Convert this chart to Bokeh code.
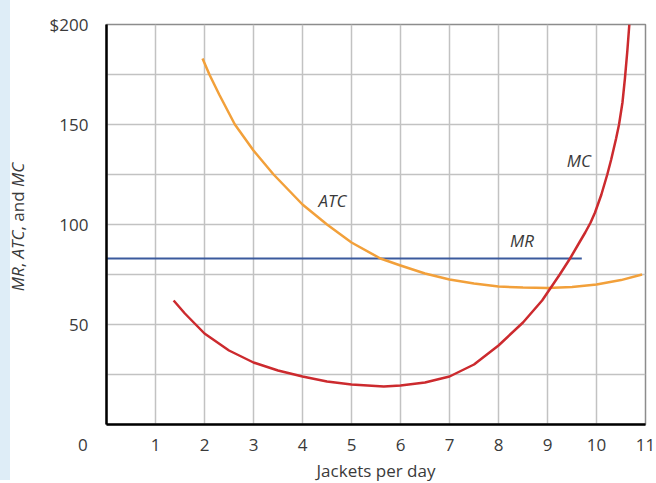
import math
from bokeh.plotting import figure
from bokeh.models import Range1d, FixedTicker, Label, Div
from bokeh.layouts import row
from bokeh.embed import file_html
from bokeh.resources import INLINE

# ---- data ----
x_ticks = [0, 1, 2, 3, 4, 5, 6, 7, 8, 9, 10, 11]
y_ticks = [50, 100, 150, 200]
y_tick_labels = ["50", "100", "150", "$200"]
grid_x = [1, 2, 3, 4, 5, 6, 7, 8, 9, 10]
grid_y = [25, 50, 75, 100, 125, 150, 175]

mr_q = [0, 9.7]
mr_v = [83, 83]

atc_q = [1.96, 2.1, 2.3, 2.62, 3.0, 3.41, 4.0, 4.5, 5.0, 5.59, 6.0, 6.5, 7.0, 7.5, 8.0, 8.5, 9.0, 9.5, 10.0, 10.5, 10.93]
atc_v = [183, 175, 165, 150, 137, 125, 110, 100, 91, 83, 79.5, 75.5, 72.5, 70.5, 69, 68.5, 68.3, 68.8, 70, 72.2, 75]

mc_q = [1.37, 1.6, 1.82, 2.0, 2.5, 3.0, 3.5, 4.0, 4.5, 5.0, 5.66, 6.0, 6.5, 7.0, 7.5, 8.0, 8.5, 8.89, 9.25, 9.46, 9.65, 9.77, 9.88, 9.97, 10.1, 10.22, 10.3, 10.4, 10.46, 10.53, 10.58, 10.63, 10.67]
mc_v = [62, 55.5, 50, 45.5, 37, 31, 27, 24, 21.5, 20, 19, 19.5, 21, 24, 30, 39.5, 51, 62, 75, 83, 91, 96, 101, 106, 115, 125, 132.5, 143, 150, 161, 173, 187, 200]

FONT = "Open Sans"
TXT = "#3a3a3a"
DIV_W = 34

p = figure(frame_width=539, frame_height=400,
           x_range=Range1d(0, 11), y_range=Range1d(0, 200),
           output_backend="svg", toolbar_location=None,
           min_border_left=72, min_border_right=11,
           min_border_top=24, min_border_bottom=0)

p.background_fill_color = "white"
p.border_fill_color = "white"
p.outline_line_color = "#8c8c8c"
p.outline_line_width = 1.5

# axes
p.xaxis.ticker = FixedTicker(ticks=x_ticks)
# the corner "0" sits left of the origin, as in the original artwork
p.xaxis.major_label_overrides = {0: "0" + "\u2003" * 2 + "\u00a0" * 3}
p.yaxis.ticker = FixedTicker(ticks=y_ticks)
p.yaxis.major_label_overrides = {t: s for t, s in zip(y_ticks, y_tick_labels)}
for ax in (p.xaxis, p.yaxis):
    ax.axis_line_color = "black"
    ax.axis_line_width = 2.5
    ax.major_tick_in = 0
    ax.major_tick_out = 0
    ax.minor_tick_line_color = None
    ax.major_label_text_font = FONT
    ax.major_label_text_font_size = "17px"
    ax.major_label_text_color = TXT
p.xaxis.major_label_standoff = 8
p.yaxis.major_label_standoff = 18
p.xaxis.axis_label = "Jackets per day"
p.xaxis.axis_label_text_font = FONT
p.xaxis.axis_label_text_font_size = "17px"
p.xaxis.axis_label_text_font_style = "normal"
p.xaxis.axis_label_text_color = TXT
p.xaxis.axis_label_standoff = 0

# grid
p.xgrid.ticker = FixedTicker(ticks=grid_x)
p.ygrid.ticker = FixedTicker(ticks=grid_y)
for g in (p.xgrid, p.ygrid):
    g.grid_line_color = "#c2c2c2"
    g.grid_line_width = 1.5

# curves
p.line(mr_q, mr_v, line_color="#3b5a9d", line_width=2.2)
p.line(atc_q, atc_v, line_color="#f2a03a", line_width=2.5, line_join="round")
p.line(mc_q, mc_v, line_color="#cc2a2e", line_width=2.5, line_join="round")

# curve labels
for txt, lx, ly in [("ATC", 4.61, 112), ("MR", 8.48, 92), ("MC", 9.64, 132)]:
    p.add_layout(Label(x=lx, y=ly, text=txt, text_font=FONT, text_font_size="17px",
                       text_font_style="italic", text_color=TXT,
                       text_align="center", text_baseline="middle"))

# y axis title (mixed italic) in a narrow div at the left, with the page's light-blue edge
ytitle = Div(width=DIV_W, height=480, margin=0, text=(
    f'<div style="position:relative;width:{DIV_W}px;height:480px;">'
    '<div style="position:absolute;left:0;top:0;width:10px;height:480px;background:#deedf7;"></div>'
    '<div style="position:absolute;left:17px;top:227px;'
    'transform:translate(-50%,-50%) rotate(-90deg);white-space:nowrap;'
    "font-family:'Open Sans';font-size:17px;color:#3a3a3a;line-height:1;\">"
    '<i>MR</i>, <i>ATC</i>, and <i>MC</i></div></div>'))

layout = row(ytitle, p, spacing=0)

open("out.html", "w").write(file_html(layout, INLINE))
